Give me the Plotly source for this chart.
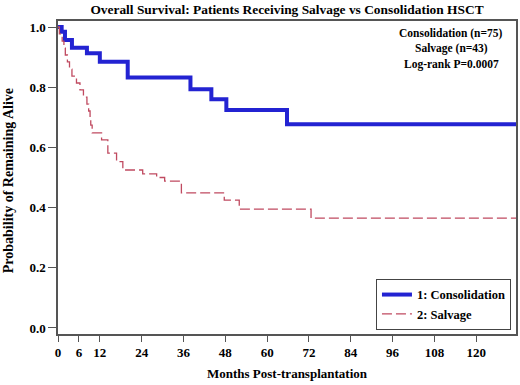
import plotly.graph_objects as go

# Kaplan-Meier estimates
cons_months = [0, 1.05, 2.0, 4.0, 8.3, 12.0, 20.0, 38.0, 44.0, 48.3, 65.7]
cons_surv = [1.0, 0.984, 0.957, 0.931, 0.913, 0.885, 0.832, 0.793, 0.760, 0.724, 0.677]

salv_months = [0, 0.4, 1.2, 1.7, 2.1, 2.7, 3.3, 4.0, 5.3, 6.3, 7.3, 8.3, 8.8, 9.2, 9.4, 9.8,
               12.5, 14.3, 16.8, 18.6, 24.3, 28.3, 30.6, 35.4, 47.7, 52.0, 72.6]
salv_surv = [1.0, 0.977, 0.953, 0.930, 0.907, 0.884, 0.860, 0.837, 0.814, 0.791, 0.767, 0.744,
             0.721, 0.698, 0.674, 0.648, 0.625, 0.581, 0.553, 0.525, 0.512, 0.500, 0.488,
             0.449, 0.425, 0.395, 0.365]

follow_up_end = 131.4

x_ticks = [0, 6, 12, 24, 36, 48, 60, 72, 84, 96, 108, 120]
y_ticks = [0.0, 0.2, 0.4, 0.6, 0.8, 1.0]

stats_lines = ["Consolidation (n=75)", "Salvage (n=43)", "Log-rank P=0.0007"]

FONT = "Liberation Serif"
AXIS_COLOR = "#555555"

fig = go.Figure()
fig.add_trace(go.Scatter(
    x=cons_months + [follow_up_end], y=cons_surv + [cons_surv[-1]],
    mode="lines", line=dict(shape="hv", color="#2323d2", width=4),
    name="1: Consolidation"))
fig.add_trace(go.Scatter(
    x=salv_months + [follow_up_end], y=salv_surv + [salv_surv[-1]],
    mode="lines", line=dict(shape="hv", color="#c04a60", width=1.3, dash="10px,4px"),
    name="2: Salvage"))

fig.update_layout(
    width=520, height=385,
    margin=dict(l=58, r=2, t=21, b=51),
    paper_bgcolor="white", plot_bgcolor="white",
    font=dict(family=FONT, size=12, color="black", weight="bold"),
    title=dict(text="Overall Survival: Patients Receiving Salvage vs Consolidation HSCT",
               x=0.5, xref="paper", xanchor="center", y=1 - 9 / 385, yanchor="middle",
               font=dict(family=FONT, size=13.4, weight="bold")),
    showlegend=True,
    legend=dict(x=0.989, xanchor="right", y=0.013, yanchor="bottom",
                bgcolor="white", bordercolor="#444444", borderwidth=1,
                font=dict(family=FONT, size=12.5, weight="bold"),
                tracegroupgap=0, itemwidth=30),
)

fig.update_xaxes(
    range=[0, follow_up_end], tickvals=x_ticks, ticktext=[str(t) for t in x_ticks],
    ticks="outside", ticklen=6, tickcolor=AXIS_COLOR, showgrid=False, zeroline=False,
    showline=True, linecolor=AXIS_COLOR, linewidth=1.5, mirror=True,
    tickfont=dict(family=FONT, size=13, weight="bold"),
)
fig.update_yaxes(
    range=[-0.02, 1.02], tickvals=y_ticks, ticktext=[f"{t:.1f}" for t in y_ticks],
    ticks="outside", ticklen=8, tickcolor=AXIS_COLOR, showgrid=False, zeroline=False,
    showline=True, linecolor=AXIS_COLOR, linewidth=1.5, mirror=True,
    tickfont=dict(family=FONT, size=13, weight="bold"),
)

# axis titles placed as annotations for exact positioning
fig.add_annotation(text="Months Post-transplantation", xref="paper", yref="paper",
                   x=0.5, y=(334 - 373) / 313, xanchor="center", yanchor="middle",
                   showarrow=False, font=dict(family=FONT, size=13, weight="bold"))
fig.add_annotation(text="Probability of Remaining Alive", xref="paper", yref="paper",
                   x=(8 - 58) / 460, y=(334 - 181) / 313, xanchor="center", yanchor="middle",
                   textangle=-90, showarrow=False, font=dict(family=FONT, size=14, weight="bold"))

for i, line in enumerate(stats_lines):
    fig.add_annotation(text=line, xref="paper", yref="paper",
                       x=(453 - 58) / 460, y=(334 - 33 - 15.5 * i) / 313,
                       xanchor="center", yanchor="middle", showarrow=False,
                       font=dict(family=FONT, size=11.5, weight="bold"))

fig.write_html("out.html", config={"displayModeBar": False},
               post_script="document.body.style.margin='0';document.body.style.overflow='hidden';")
